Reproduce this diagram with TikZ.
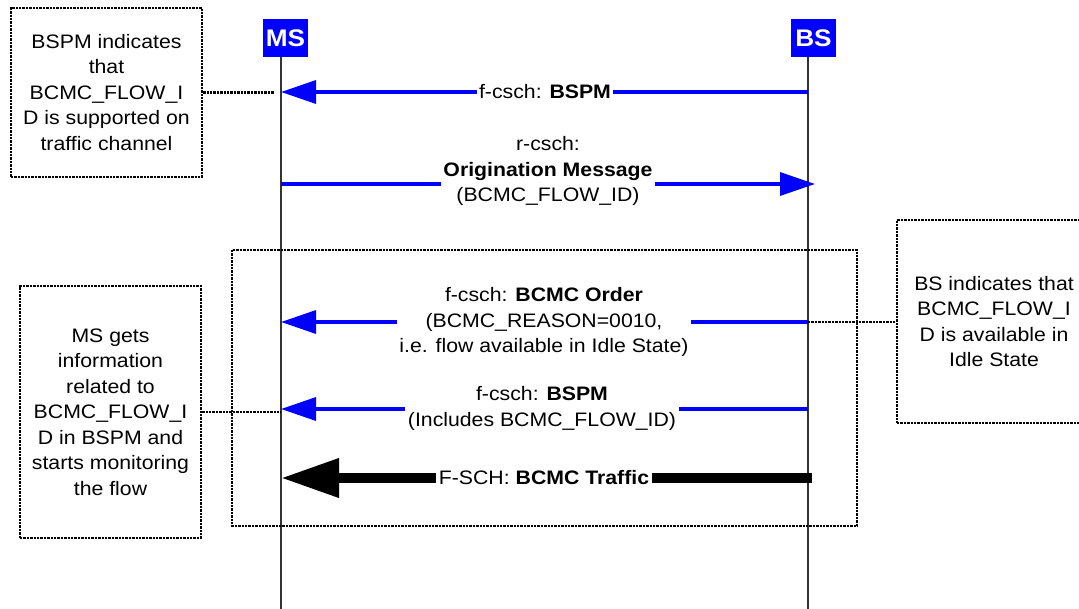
\documentclass[tikz,border=0pt]{standalone}
\usepackage{fontspec}
\setmainfont{Liberation Sans}[FakeStretch=1.09]
\usepackage{tikz}
\usetikzlibrary{arrows.meta}
\tikzset{
    note/.style={
        draw,line width=2.2pt,dash pattern=on 2.4pt off 1pt,
        align=center,inner sep=0pt,
        font=\fontsize{19.5}{25.5}\selectfont
    },
    entity/.style={
        fill=blue,text=white,inner sep=0pt,
        minimum width=45pt,minimum height=38pt,
        font=\fontsize{24}{24}\selectfont\bfseries
    },
    lifeline/.style={draw=black!80,line width=1.2pt},
    msg/.style={blue,line width=3.3pt,-{Triangle[length=35pt,width=23pt]}},
    traffic/.style={black,line width=10pt,-{Triangle[length=58pt,width=37pt]}},
    msg label/.style={
        fill=white,inner sep=2.5pt,align=center,
        font=\fontsize{19.5}{25.5}\selectfont
    },
    link/.style={line width=2.2pt,dash pattern=on 2.4pt off 1pt}
}
\begin{document}
\begin{tikzpicture}[x=1pt,y=-1pt]
\useasboundingbox (0,0) rectangle (1079,609);
\clip (0,0) rectangle (1079,609);
\node[entity] (ms) at (285.5,38) {MS};
\node[entity] (bs) at (813.5,38) {BS};
\foreach \n/\x in {ms/281,bs/808} {
    \coordinate (\n top) at (\x,57);
    \coordinate (\n end) at (\x,609);
    \draw[lifeline] (\n top) -- (\n end);
}
\foreach \i/\y in {1/92,2/184,3/322,4/409,5/478} {
    \coordinate (ms\i) at (281,\y);
    \coordinate (bs\i) at (808,\y);
}
\draw[link] (232,250) rectangle (857,526);
% messages
\draw[msg] (bs1) -- (ms1);
\node[msg label] (m1) at (545,92) {f-csch: \textbf{BSPM}};
\draw[msg,shorten >=-7pt] (ms2) -- (bs2);
\node[msg label] (m2) at (548,171) {r-csch:\\\textbf{Origination Message}\\(BCMC\_FLOW\_ID)};
\draw[msg] (bs3) -- (ms3);
\node[msg label] (m3) at (544,322) {f-csch: \textbf{BCMC Order}\\(BCMC\_REASON=0010,\\i.e. flow available in Idle State)};
\draw[msg] (bs4) -- (ms4);
\node[msg label] (m4) at (542,408.5) {f-csch: \textbf{BSPM}\\(Includes BCMC\_FLOW\_ID)};
\draw[traffic,shorten <=-4pt] (bs5) -- (ms5);
\node[msg label] (m5) at (544,478) {F-SCH: \textbf{BCMC Traffic}};
% notes
\node[note,minimum width=191pt,minimum height=169pt] (bspm note) at (106.5,92.5)
    {BSPM indicates\\that\\BCMC\_FLOW\_I\\D is supported on\\traffic channel};
\node[note,minimum width=181pt,minimum height=252pt] (ms note) at (110.5,412)
    {MS gets\\information\\related to\\BCMC\_FLOW\_I\\D in BSPM and\\starts monitoring\\the flow};
\node[note,minimum width=194pt,minimum height=203pt] (bs note) at (994,321.5)
    {BS indicates that\\BCMC\_FLOW\_I\\D is available in\\Idle State};
\coordinate (bspm end) at (274,92.5);
\draw[link] (bspm note.east) -- (bspm end);
\draw[link] (ms note.east) -- (ms note.east -| ms4);
\draw[link] (bs3) -- (bs3 -| bs note.west);
\end{tikzpicture}
\end{document}
